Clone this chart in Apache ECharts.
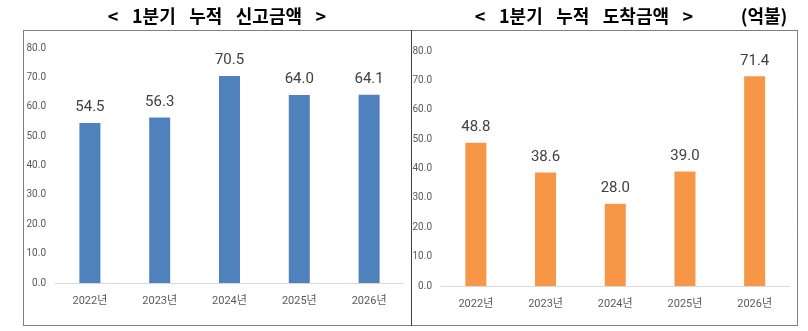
<!DOCTYPE html>
<html>
<head>
<meta charset="utf-8">
<script src="https://cdn.jsdelivr.net/npm/echarts@6/dist/echarts.min.js"></script>
<style>
  html, body { margin: 0; padding: 0; background: #fff; }
  #chart { width: 808px; height: 331px; }
</style>
</head>
<body>
<div id="chart"></div>
<script>
// Quarterly cumulative amounts (unit: 억불)
const years = ['2022년', '2023년', '2024년', '2025년', '2026년'];
const reportedAmounts = [54.5, 56.3, 70.5, 64.0, 64.1];
const arrivedAmounts = [48.8, 38.6, 28.0, 39.0, 71.4];
const yTicks = [0, 10, 20, 30, 40, 50, 60, 70, 80];

const titleLeft = '< 1분기 누적 신고금액 >';
const titleRight = '< 1분기 누적 도착금액 >';
const unitText = '(억불)';

const chart = echarts.init(document.getElementById('chart'), null, { renderer: 'canvas' });

const labelFont = '"Roboto", sans-serif';
const axisFont = '"Roboto", "Noto Sans CJK KR", sans-serif';

// widen the gaps between title words
const spaced = s => s.split(' ').join('\u2002\u2005');

function yAxisFor(gridIndex) {
  return {
    type: 'value',
    gridIndex: gridIndex,
    min: yTicks[0],
    max: yTicks[yTicks.length - 1],
    interval: yTicks[1] - yTicks[0],
    axisLine: { show: false },
    axisTick: { show: false },
    splitLine: { show: false },
    axisLabel: {
      margin: 9,
      color: '#595959',
      fontSize: 10,
      fontFamily: axisFont,
      formatter: v => v.toFixed(1)
    }
  };
}

function xAxisFor(gridIndex) {
  return {
    type: 'category',
    gridIndex: gridIndex,
    data: years,
    axisLine: { show: true, lineStyle: { color: '#D9D9D9', width: 1 } },
    axisTick: { show: false },
    axisLabel: {
      margin: 13,
      color: '#595959',
      fontSize: 11,
      fontFamily: axisFont
    }
  };
}

function barSeries(index, values, color) {
  return {
    type: 'bar',
    xAxisIndex: index,
    yAxisIndex: index,
    data: values,
    barWidth: 21,
    itemStyle: { color: color },
    label: {
      show: true,
      position: 'top',
      distance: 8,
      color: '#404040',
      fontSize: 15,
      fontFamily: labelFont,
      formatter: p => p.value.toFixed(1)
    },
    animation: false
  };
}

const titleFont = 'bold 18px "Noto Sans CJK KR", sans-serif';

chart.setOption({
  animation: false,
  grid: [
    { left: 55, width: 349, top: 48, height: 235 },
    { left: 441, width: 348.5, top: 51, height: 235 }
  ],
  xAxis: [xAxisFor(0), xAxisFor(1)],
  yAxis: [yAxisFor(0), yAxisFor(1)],
  series: [
    barSeries(0, reportedAmounts, '#4F81BD'),
    barSeries(1, arrivedAmounts, '#F79646')
  ],
  graphic: [
    {
      type: 'rect',
      shape: { x: 23.5, y: 30.5, width: 388, height: 295 },
      style: { fill: 'none', stroke: '#000', lineWidth: 1, lineDash: [1, 1] },
      silent: true
    },
    {
      type: 'rect',
      shape: { x: 411.5, y: 30.5, width: 386, height: 295 },
      style: { fill: 'none', stroke: '#000', lineWidth: 1, lineDash: [1, 1] },
      silent: true
    },
    {
      type: 'text',
      x: 217, y: 16,
      style: { text: spaced(titleLeft), font: titleFont, fill: '#000', align: 'center', verticalAlign: 'middle' },
      silent: true
    },
    {
      type: 'text',
      x: 584, y: 16,
      style: { text: spaced(titleRight), font: titleFont, fill: '#000', align: 'center', verticalAlign: 'middle' },
      silent: true
    },
    {
      type: 'text',
      x: 764, y: 16,
      style: { text: unitText, font: titleFont, fill: '#000', align: 'center', verticalAlign: 'middle' },
      silent: true
    }
  ]
});
</script>
</body>
</html>
